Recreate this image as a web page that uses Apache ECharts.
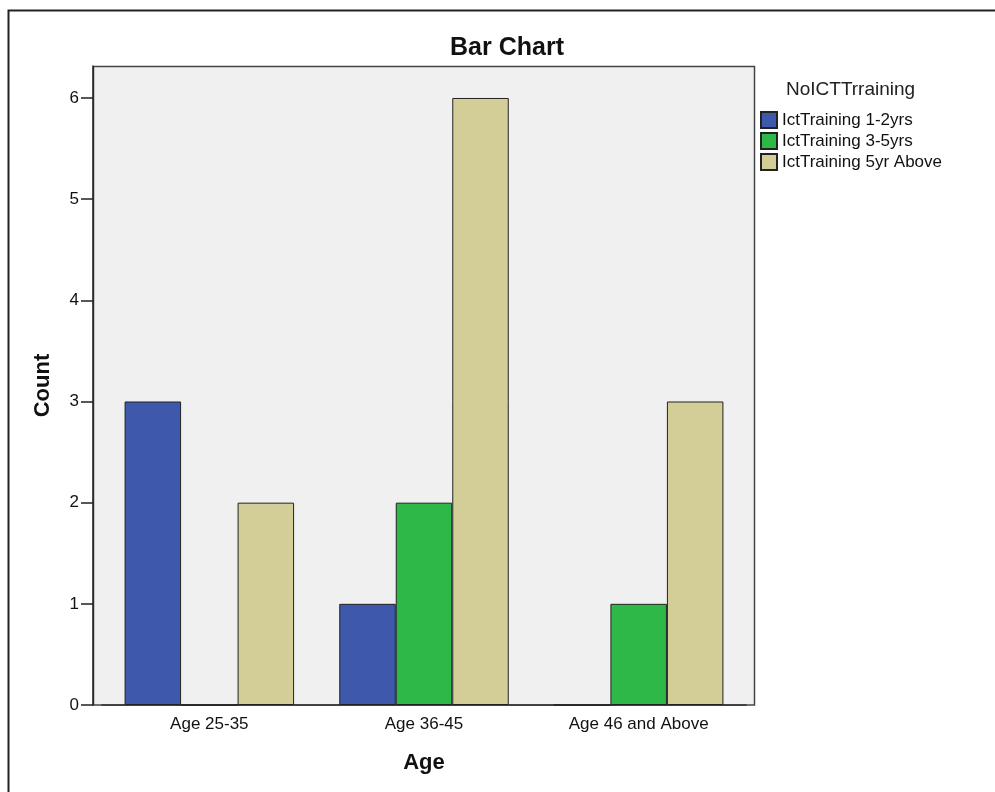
<!DOCTYPE html>
<html><head><meta charset="utf-8">
<script src="https://cdn.jsdelivr.net/npm/echarts@6/dist/echarts.min.js"></script>
<style>html,body{margin:0;padding:0;background:#fff}#c{width:995px;height:792px}</style>
</head><body><div id="c"></div>
<script>
const categories = ['Age 25-35', 'Age 36-45', 'Age 46 and Above'];
const seriesNames = ['IctTraining 1-2yrs', 'IctTraining 3-5yrs', 'IctTraining 5yr Above'];
const training12 = [3, 1, 0];
const training35 = [0, 2, 1];
const training5up = [2, 6, 3];
const yTicks = [0, 1, 2, 3, 4, 5, 6];

const colors = ['#3e58ac', '#2eb848', '#d3ce97'];
const font = 'Liberation Sans, Arial, sans-serif';
const chart = echarts.init(document.getElementById('c'));
const mk = (name, data, i) => ({
  name, type: 'bar', data, barWidth: 56.5, barGap: '0%',
  itemStyle: { color: colors[i], borderColor: '#222', borderWidth: 1 },
  emphasis: { disabled: true }
});
chart.setOption({
  animation: false,
  textStyle: { fontFamily: font },
  graphic: [
    { type: 'rect', shape: { x: 8.5, y: 10.5, width: 1000, height: 800 }, style: { fill: 'none', stroke: '#222', lineWidth: 2 }, z: -10 },
    { type: 'rect', shape: { x: 93.5, y: 66.5, width: 661, height: 638.5 }, style: { fill: '#f0f0f0', stroke: '#444', lineWidth: 1.5 }, z: -5 }
  ],
  title: [
    { text: 'Bar Chart', left: 507, top: 36, textAlign: 'center', padding: 0,
      textStyle: { fontFamily: font, fontSize: 25, fontWeight: 'bold', color: '#111' } },
    { text: 'NoICTTrraining', left: 786, top: 80, padding: 0,
      textStyle: { fontFamily: font, fontSize: 19, fontWeight: 'normal', color: '#222' } }
  ],
  legend: {
    orient: 'vertical', left: 760, top: 111, padding: 0, itemWidth: 16, itemHeight: 16, itemGap: 3,
    icon: 'rect', selectedMode: false,
    textStyle: { fontFamily: font, fontSize: 17, color: '#111' },
    data: seriesNames
  },
  grid: { left: 102, right: 249, top: 66, bottom: 87 },
  xAxis: {
    type: 'category', data: categories,
    name: 'Age', nameLocation: 'middle', nameGap: 47,
    nameTextStyle: { fontFamily: font, fontSize: 22, fontWeight: 'bold', color: '#111' },
    axisLine: { show: true, lineStyle: { color: '#333', width: 1.5 } },
    axisTick: { alignWithLabel: true, length: 8, lineStyle: { color: '#222', width: 1.5 } },
    axisLabel: { fontFamily: font, fontSize: 17, color: '#111', margin: 11 }
  },
  yAxis: {
    type: 'value', min: 0, max: 6.316, interval: 1, offset: 9,
    name: 'Count', nameLocation: 'middle', nameGap: 39, nameRotate: 90,
    nameTextStyle: { fontFamily: font, fontSize: 22, fontWeight: 'bold', color: '#111' },
    axisLine: { show: true, lineStyle: { color: '#222', width: 1.5 } },
    axisTick: { show: true, length: 12, customValues: yTicks, lineStyle: { color: '#222', width: 1.5 } },
    splitLine: { show: false },
    axisLabel: { fontFamily: font, fontSize: 17, color: '#111', margin: 14, customValues: yTicks,
      formatter: v => yTicks.includes(v) ? String(v) : '' }
  },
  series: [mk(seriesNames[0], training12, 0), mk(seriesNames[1], training35, 1), mk(seriesNames[2], training5up, 2)]
});
</script></body></html>
